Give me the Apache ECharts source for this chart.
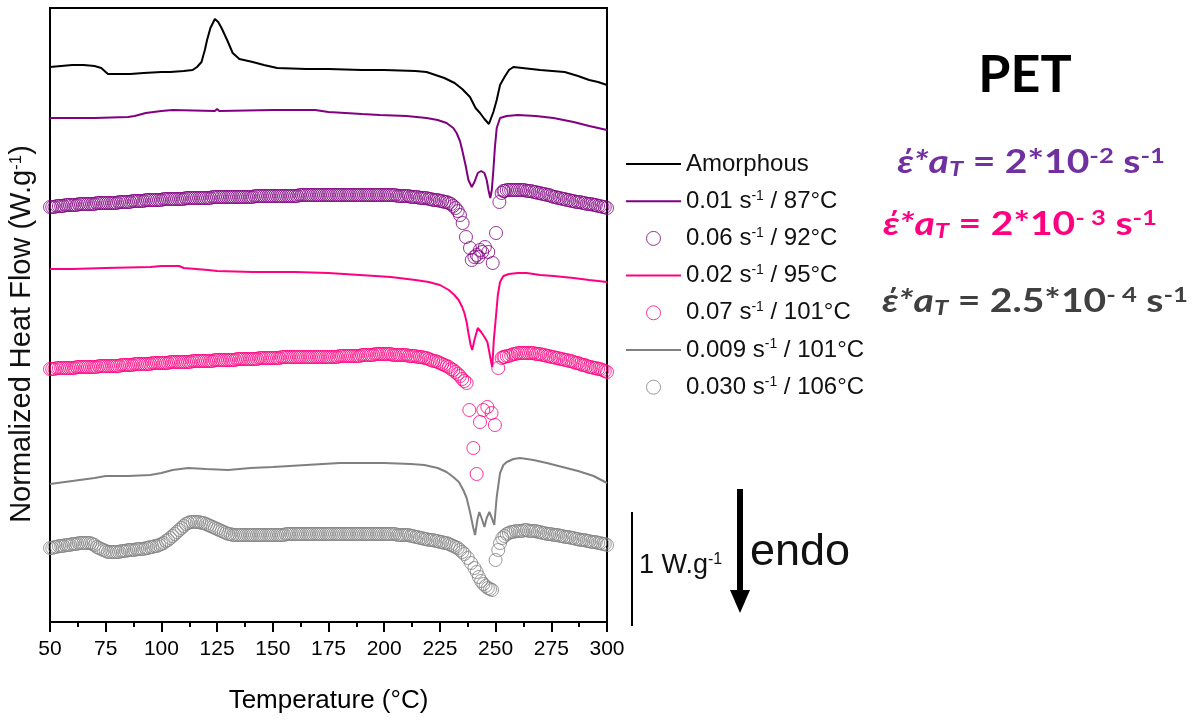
<!DOCTYPE html>
<html>
<head>
<meta charset="utf-8">
<script src="https://cdn.jsdelivr.net/npm/echarts@6/dist/echarts.min.js"></script>
<style>
html,body{margin:0;padding:0;background:#fff;}
#chart{width:1194px;height:720px;}
</style>
</head>
<body>
<div id="chart"></div>
<script>
// Temperature ticks (°C)
const xTicks = [50, 75, 100, 125, 150, 175, 200, 225, 250, 275, 300];
// Series names (legend)
const seriesNames = ['Amorphous', '0.01 s-1 / 87°C', '0.06 s-1 / 92°C', '0.02 s-1 / 95°C', '0.07 s-1 / 101°C', '0.009 s-1 / 101°C', '0.030 s-1 / 106°C'];
// Heat flow of stacked curves, arbitrary offset units (112 units = 1 W/g), pairs [T, value]
const amorphous = [[50,555],[55,556],[60,557],[65,557],[70,556],[73,554],[76,548],[80,548],[86,548],[92,549],[100,550],[104,550],[110,551],[114,552],[116,555],[118,560],[119.5,572],[120.5,582],[122,594],[124,603],[125.5,600],[127,594],[129.5,582],[132,569],[135,563],[141,560],[146,557],[152,554],[165,553],[175,553],[190,552],[200,552],[214,551],[219,550],[223,547],[227,544],[231.6,539],[235,533],[238.5,525],[241,514],[243,509],[245,503],[247,498],[249,510],[250.5,522],[252,537],[254,545],[256,552],[258,555],[262,554],[270,552],[281,550],[287,546],[292,542],[296,540],[300,537]];
const rate001 = [[50,504],[70,504],[85,505],[88,506],[93,509],[100,511],[105,512],[124,511],[125,513],[126,511],[150,512],[169,512],[175,510],[190,508],[198,507],[210,506],[219,504],[224,502],[228,499],[231,494],[232.5,489],[234,481],[235,472],[236.5,457],[237.8,442],[239.3,435],[240.5,440],[242,449],[243.5,451],[245,449],[246,442],[246.8,432],[247.6,424],[248.3,432],[249,452],[249.7,475],[250.5,494],[252,504],[255,506],[260,507],[268,506],[276,504],[285,500],[292,496],[300,492]];
const rate006 = [[50,415],[51,415],[52,415],[53,416],[54,416],[55,416],[56,416],[57,417],[58,417],[59,417],[60,417],[61,417],[62,417],[63,418],[64,418],[65,418],[66,418],[67,418],[68,418],[69,418],[70,418],[71,419],[72,419],[73,419],[74,419],[75,419],[76,419],[77,419],[78,419],[79,419],[80,419],[81,420],[82,420],[83,420],[84,420],[85,420],[86,420],[87,421],[88,421],[89,421],[90,421],[91,421],[92,421],[93,422],[94,422],[95,422],[96,422],[97,422],[98,422],[99,422],[100,422],[101,423],[102,423],[103,423],[104,423],[105,423],[106,423],[107,423],[108,423],[109,423],[110,423],[111,424],[112,424],[113,424],[114,424],[115,424],[116,424],[117,424],[118,424],[119,424],[120,424],[121,424],[122,424],[123,425],[124,425],[125,425],[126,425],[127,425],[128,425],[129,425],[130,425],[131,425],[132,425],[133,425],[134,425],[135,425],[136,425],[137,425],[138,425],[139,425],[140,425],[141,425],[142,426],[143,426],[144,426],[145,426],[146,426],[147,426],[148,426],[149,426],[150,426],[151,426],[152,426],[153,426],[154,426],[155,426],[156,426],[157,426],[158,426],[159,426],[160,426],[161,426],[162,427],[163,427],[164,427],[165,427],[166,427],[167,427],[168,427],[169,427],[170,427],[171,427],[172,427],[173,427],[174,427],[175,427],[176,427],[177,427],[178,427],[179,427],[180,427],[181,427],[182,427],[183,427],[184,427],[185,427],[186,427],[187,427],[188,427],[189,427],[190,427],[191,427],[192,427],[193,427],[194,427],[195,427],[196,427],[197,427],[198,427],[199,427],[200,427],[201,427],[202,427],[203,427],[204,427],[205,427],[206,426],[207,426],[208,426],[209,426],[210,426],[211,426],[212,425],[213,425],[214,425],[215,425],[216,424],[217,424],[218,424],[219,424],[220,423],[221,423],[222,422],[223,422],[224,422],[225,421],[226,421],[227,420],[228,420],[229,419],[230,418],[231,416],[232,414],[233,411],[234,407],[235.2,399],[236.7,385],[238.5,374],[239.3,362],[240.5,365],[241.5,367],[242.3,365],[243,372],[244,370],[245.2,375],[246.7,370],[248.7,359],[250.2,389],[251.7,420],[252.7,429],[253.5,431],[254,431],[255,432],[256,432],[257,432],[258,432],[259,432],[260,432],[261,432],[262,432],[263,432],[264,431],[265,431],[266,431],[267,430],[268,430],[269,429],[270,429],[271,428],[272,428],[273,427],[274,427],[275,426],[276,425],[277,425],[278,424],[279,424],[280,423],[281,423],[282,422],[283,422],[284,421],[285,421],[286,420],[287,420],[288,420],[289,419],[290,419],[291,418],[292,418],[293,418],[294,417],[295,417],[296,416],[297,416],[298,415],[299,415],[300,414]];
const rate002 = [[50,353],[60,353],[75,354],[95,355],[100,356],[108,356],[110,354],[121,352],[125,351],[141,350],[160,350],[175,349],[189,347],[203,345],[214,342],[220,340],[225,337],[229,332],[231.5,327],[233.4,322],[235,315],[236,309],[237,300],[237.8,289],[238.8,277],[239.5,272],[240.5,282],[242,294],[243.5,290],[245,285],[246.3,280],[247,272],[248,260],[248.5,255],[249.2,282],[250.3,309],[251,327],[252,340],[253.5,346],[256,348],[260,349],[264,349],[270,347],[276,346],[285,344],[292,342],[300,340]];
const rate007 = [[50,253],[51,253],[52,253],[53,254],[54,254],[55,254],[56,254],[57,254],[58,254],[59,254],[60,254],[61,254],[62,255],[63,255],[64,255],[65,255],[66,255],[67,255],[68,255],[69,255],[70,255],[71,255],[72,256],[73,256],[74,256],[75,256],[76,256],[77,256],[78,256],[79,256],[80,256],[81,256],[82,257],[83,257],[84,257],[85,257],[86,257],[87,257],[88,258],[89,258],[90,258],[91,258],[92,258],[93,258],[94,258],[95,258],[96,259],[97,259],[98,259],[99,259],[100,259],[101,259],[102,259],[103,259],[104,260],[105,260],[106,260],[107,260],[108,260],[109,260],[110,260],[111,260],[112,260],[113,260],[114,261],[115,261],[116,261],[117,261],[118,261],[119,261],[120,261],[121,261],[122,261],[123,261],[124,262],[125,262],[126,262],[127,262],[128,262],[129,262],[130,262],[131,262],[132,262],[133,262],[134,263],[135,263],[136,263],[137,263],[138,263],[139,263],[140,263],[141,263],[142,263],[143,263],[144,264],[145,264],[146,264],[147,264],[148,264],[149,264],[150,264],[151,264],[152,264],[153,264],[154,265],[155,265],[156,265],[157,265],[158,265],[159,265],[160,265],[161,265],[162,265],[163,265],[164,265],[165,265],[166,265],[167,265],[168,265],[169,265],[170,265],[171,265],[172,265],[173,265],[174,265],[175,265],[176,265],[177,265],[178,265],[179,265],[180,266],[181,266],[182,266],[183,266],[184,266],[185,266],[186,266],[187,266],[188,266],[189,266],[190,267],[191,267],[192,267],[193,267],[194,267],[195,267],[196,268],[197,268],[198,268],[199,268],[200,268],[201,268],[202,268],[203,268],[204,267],[205,267],[206,267],[207,267],[208,267],[209,267],[210,267],[211,266],[212,266],[213,266],[214,266],[215,265],[216,265],[217,265],[218,264],[219,264],[220,263],[221,262],[222,261],[223,261],[224,260],[225,259],[226,258],[227,257],[228,256],[229,255],[230,253],[231,252],[232,250],[233,248],[234,246],[235,243],[236,241],[237,239],[238.2,212],[240,174],[241.5,148],[243,200],[244.5,212],[246.3,215],[248.2,209],[249.7,197],[251.2,254],[252.7,264],[253.5,265],[254,265],[255,266],[256,266],[257,267],[258,268],[259,268],[260,269],[261,269],[262,269],[263,269],[264,269],[265,269],[266,269],[267,269],[268,268],[269,268],[270,268],[271,267],[272,267],[273,266],[274,266],[275,265],[276,265],[277,264],[278,264],[279,263],[280,263],[281,262],[282,262],[283,261],[284,261],[285,260],[286,259],[287,259],[288,258],[289,257],[290,257],[291,256],[292,255],[293,255],[294,254],[295,254],[296,253],[297,253],[298,252],[299,251],[300,250]];
const rate0009 = [[50,138],[60,141],[70,144],[75,146],[85,146],[95,147],[100,149],[105,152],[112,154],[120,153],[130,152],[140,154],[150,155],[165,157],[180,159],[200,159],[212,158],[218,157],[224,154],[228,150],[231,145],[233.5,140],[235.5,132],[237,124],[238.5,110],[240,94],[240.8,87],[241.8,102],[242.7,110],[244,102],[245,95],[246,104],[247.2,110],[248.3,104],[249.4,97],[250.5,125],[252,149],[253.5,157],[255,160],[258,163],[261,164],[267,162],[273,159],[280,155],[287,151],[294,146],[300,139]];
const rate0030 = [[50,74],[51,74],[52,75],[53,75],[54,76],[55,76],[56,76],[57,77],[58,77],[59,77],[60,78],[61,78],[62,78],[63,79],[64,79],[65,79],[66,79],[67,79],[68,79],[69,78],[70,77],[71,75],[72,74],[73,73],[74,72],[75,71],[76,70],[77,70],[78,70],[79,70],[80,70],[81,70],[82,71],[83,71],[84,71],[85,72],[86,72],[87,72],[88,72],[89,73],[90,73],[91,73],[92,73],[93,74],[94,74],[95,75],[96,75],[97,76],[98,76],[99,77],[100,78],[101,79],[102,81],[103,82],[104,84],[105,86],[106,88],[107,90],[108,92],[109,94],[110,96],[111,98],[112,99],[113,100],[114,100],[115,100],[116,100],[117,100],[118,99],[119,99],[120,98],[121,97],[122,96],[123,95],[124,94],[125,93],[126,92],[127,91],[128,90],[129,89],[130,88],[131,88],[132,87],[133,87],[134,87],[135,87],[136,87],[137,87],[138,87],[139,87],[140,87],[141,87],[142,87],[143,87],[144,87],[145,87],[146,87],[147,87],[148,87],[149,87],[150,87],[151,87],[152,87],[153,87],[154,87],[155,87],[156,88],[157,88],[158,88],[159,88],[160,88],[161,88],[162,88],[163,88],[164,88],[165,88],[166,88],[167,88],[168,88],[169,88],[170,88],[171,88],[172,88],[173,88],[174,88],[175,88],[176,88],[177,88],[178,88],[179,88],[180,88],[181,88],[182,88],[183,88],[184,88],[185,88],[186,88],[187,88],[188,88],[189,88],[190,88],[191,88],[192,88],[193,88],[194,88],[195,88],[196,88],[197,88],[198,88],[199,88],[200,88],[201,88],[202,88],[203,88],[204,88],[205,88],[206,87],[207,87],[208,87],[209,87],[210,87],[211,87],[212,86],[213,86],[214,85],[215,85],[216,84],[217,84],[218,83],[219,83],[220,82],[221,82],[222,82],[223,81],[224,81],[225,80],[226,80],[227,79],[228,79],[229,78],[230,77],[231,76],[232,75],[233,74],[234,72],[235,70],[236,68],[237.5,64],[239,59],[240.5,54],[241.5,50],[242.5,45],[243.5,41],[244.5,38],[245.5,36],[246.5,34],[247.5,33],[248.4,32],[250,62],[251.2,72],[252,79],[253,84],[254,86],[255,88],[256,89],[257,90],[258,90],[259,91],[260,91],[261,91],[262,91],[263,92],[264,92],[265,91],[266,91],[267,91],[268,91],[269,90],[270,90],[271,89],[272,89],[273,88],[274,88],[275,88],[276,87],[277,87],[278,87],[279,86],[280,86],[281,85],[282,85],[283,85],[284,84],[285,84],[286,83],[287,83],[288,82],[289,82],[290,82],[291,81],[292,81],[293,80],[294,80],[295,80],[296,79],[297,79],[298,78],[299,78],[300,77]];

const C_BLACK = '#000000', C_PURPLE = '#800080', C_PINK = '#FF0080', C_GRAY = '#808080';
const FONT = "'Liberation Sans', Arial, sans-serif";
const FF = "Lato, 'Open Sans', 'Noto Sans', sans-serif";

function lineSeries(name, data, color) {
  return { name, type: 'line', data, symbol: 'none', smooth: false, z: 2,
    lineStyle: { color, width: 2 }, itemStyle: { color } };
}
function circleSeries(name, data, color) {
  return { name, type: 'scatter', data, symbol: 'circle', symbolSize: 13, symbolKeepAspect: true, z: 3,
    itemStyle: { color: 'rgba(0,0,0,0)', borderColor: color, borderWidth: 1 } };
}

function formula(col, mant, exp, x, y) {
  return {
    type: 'text', x, y, scaleX: 1.22,
    style: {
      text: '{e|έ*a}{sub|T}{n| = ' + mant + '*10}{sup|' + exp + '}{n| s}{sup|-1}',
      align: 'center', verticalAlign: 'middle',
      rich: {
        e: { fontFamily: FF, fontSize: 32, fontWeight: 'bold', fontStyle: 'italic', fill: col },
        sub: { fontFamily: FF, fontSize: 21, fontWeight: 'bold', fontStyle: 'italic', fill: col, padding: [13, 0, 0, 0] },
        n: { fontFamily: FF, fontSize: 32, fontWeight: 'bold', fill: col },
        sup: { fontFamily: FF, fontSize: 21, fontWeight: 'bold', fill: col, padding: [0, 0, 13, 0] }
      }
    }
  };
}

// line entries of the legend show the line only (no marker); circle entries keep a thin outline
const lineEntries = [0, 1, 3, 5];
const legendData = seriesNames.map((n, i) => (lineEntries.indexOf(i) >= 0
  ? { name: n, itemStyle: { opacity: 0 } }
  : { name: n, itemStyle: { borderWidth: 1 } }));

const chart = echarts.init(document.getElementById('chart'));
chart.setOption({
  animation: false,
  backgroundColor: '#fff',
  grid: { left: 50, right: 587, top: 8, bottom: 98, show: true, borderColor: '#000', borderWidth: 2, backgroundColor: 'transparent' },
  xAxis: {
    type: 'value', min: xTicks[0], max: xTicks[xTicks.length - 1], interval: 25,
    name: 'Temperature (°C)', nameLocation: 'middle', nameGap: 66,
    nameTextStyle: { fontFamily: FONT, fontSize: 26, color: '#000' },
    axisLine: { show: true, onZero: false, lineStyle: { color: '#000', width: 2 } },
    axisTick: { show: true, inside: false, length: 10, lineStyle: { color: '#000', width: 2 } },
    minorTick: { show: true, splitNumber: 2, length: 5, lineStyle: { color: '#000', width: 2 } },
    axisLabel: { margin: 17, fontFamily: FONT, fontSize: 21, color: '#000' },
    splitLine: { show: false }, minorSplitLine: { show: false }
  },
  yAxis: {
    type: 'value', min: 0, max: 614,
    axisLine: { show: true, onZero: false, lineStyle: { color: '#000', width: 2 } },
    axisTick: { show: false }, axisLabel: { show: false }, splitLine: { show: false }
  },
  legend: {
    orient: 'vertical', left: 625, top: 151, padding: 0,
    itemWidth: 55, itemHeight: 14, itemGap: 11.2,
    data: legendData,
    formatter: n => n.replace('s-1', 's{sup|-1}'),
    textStyle: {
      fontFamily: FONT, fontSize: 24, color: '#111', lineHeight: 26,
      rich: { sup: { fontFamily: FONT, fontSize: 14, color: '#111', padding: [0, 0, 11, 0] } }
    }
  },
  series: [
    lineSeries(seriesNames[0], amorphous, C_BLACK),
    lineSeries(seriesNames[1], rate001, C_PURPLE),
    circleSeries(seriesNames[2], rate006, C_PURPLE),
    lineSeries(seriesNames[3], rate002, C_PINK),
    circleSeries(seriesNames[4], rate007, C_PINK),
    lineSeries(seriesNames[5], rate0009, C_GRAY),
    circleSeries(seriesNames[6], rate0030, C_GRAY)
  ],
  graphic: [
    { type: 'text', x: 22, y: 334, rotation: Math.PI / 2,
      style: { text: 'Normalized Heat Flow (W.g{sup|-1})', align: 'center', verticalAlign: 'middle',
        fontFamily: FONT, fontSize: 29, fill: '#111',
        rich: { sup: { fontFamily: FONT, fontSize: 17, fill: '#111', padding: [0, 0, 12, 0] } } } },
    { type: 'text', x: 1025, y: 75,
      style: { text: 'PET', align: 'center', verticalAlign: 'middle', fontFamily: FF, fontSize: 52, fontWeight: 'bold', fill: '#000' } },
    formula('#7030A0', '2', '-2', 1031, 163),
    formula('#FF0080', '2', '- 3', 1020, 225),
    formula('#404040', '2.5', '- 4', 1035, 302),
    { type: 'line', shape: { x1: 632, y1: 512, x2: 632, y2: 626 }, style: { stroke: '#000', lineWidth: 2 } },
    { type: 'text', x: 639, y: 566,
      style: { text: '1 W.g{sup|-1}', align: 'left', verticalAlign: 'middle', fontFamily: FONT, fontSize: 27, fill: '#111',
        rich: { sup: { fontFamily: FONT, fontSize: 16, fill: '#111', padding: [0, 0, 13, 0] } } } },
    { type: 'line', shape: { x1: 740, y1: 489, x2: 740, y2: 594 }, style: { stroke: '#000', lineWidth: 6 } },
    { type: 'polygon', shape: { points: [[730, 590], [750, 590], [740, 613]] }, style: { fill: '#000' } },
    { type: 'text', x: 750, y: 553,
      style: { text: 'endo', align: 'left', verticalAlign: 'middle', fontFamily: FONT, fontSize: 45, fill: '#111' } }
  ]
});
</script>
</body>
</html>
